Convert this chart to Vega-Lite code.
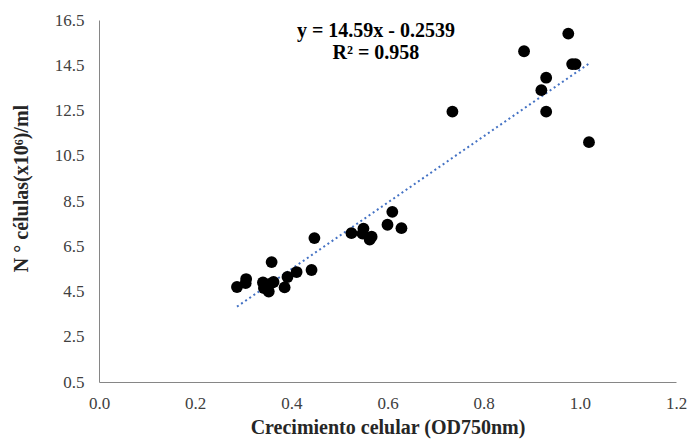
{
  "$schema": "https://vega.github.io/schema/vega-lite/v6.json",
  "width": 577,
  "height": 362,
  "autosize": "none",
  "padding": {"left": 99, "top": 20, "right": 11, "bottom": 59},
  "background": "white",
  "config": {
    "view": {"stroke": null},
    "font": "Liberation Serif",
    "axis": {"grid": false, "ticks": false, "labelFlush": false, "labelOverlap": false, "domainColor": "#868686", "labelColor": "#404040", "labelFont": "Liberation Serif", "labelFontSize": 17, "titleFont": "Liberation Serif", "titleFontSize": 20, "titleFontWeight": "bold", "titleColor": "#262626"}
  },
  "datasets": {
    "pts": [
      {"od": 0.287, "cells": 4.70},
      {"od": 0.305, "cells": 4.87},
      {"od": 0.306, "cells": 5.05},
      {"od": 0.341, "cells": 4.90},
      {"od": 0.343, "cells": 4.65},
      {"od": 0.353, "cells": 4.50},
      {"od": 0.357, "cells": 4.85},
      {"od": 0.363, "cells": 4.92},
      {"od": 0.359, "cells": 5.80},
      {"od": 0.386, "cells": 4.68},
      {"od": 0.392, "cells": 5.14},
      {"od": 0.411, "cells": 5.36},
      {"od": 0.442, "cells": 5.45},
      {"od": 0.448, "cells": 6.86},
      {"od": 0.525, "cells": 7.08},
      {"od": 0.550, "cells": 7.28},
      {"od": 0.548, "cells": 7.06},
      {"od": 0.563, "cells": 6.80},
      {"od": 0.567, "cells": 6.92},
      {"od": 0.600, "cells": 7.45},
      {"od": 0.610, "cells": 8.02},
      {"od": 0.629, "cells": 7.30},
      {"od": 0.735, "cells": 12.45},
      {"od": 0.884, "cells": 15.12},
      {"od": 0.920, "cells": 13.40},
      {"od": 0.930, "cells": 13.95},
      {"od": 0.930, "cells": 12.45},
      {"od": 0.976, "cells": 15.90},
      {"od": 0.984, "cells": 14.55},
      {"od": 0.991, "cells": 14.55},
      {"od": 1.019, "cells": 11.10}
    ],
    "eq": [
      {"od": 0.576, "cells": 16.0, "label": "y = 14.59x - 0.2539"},
      {"od": 0.576, "cells": 15.04, "label": "R² = 0.958"}
    ]
  },
  "layer": [
    {
      "data": {"name": "pts"},
      "transform": [{"regression": "cells", "on": "od", "method": "linear"}],
      "mark": {"type": "line", "color": "#4472C4", "strokeWidth": 2, "strokeDash": [2, 3]},
      "encoding": {
        "x": {"field": "od", "type": "quantitative"},
        "y": {"field": "cells", "type": "quantitative"}
      }
    },
    {
      "data": {"name": "pts"},
      "mark": {"type": "circle", "size": 140, "color": "black", "opacity": 1},
      "encoding": {
        "x": {"field": "od", "type": "quantitative", "scale": {"domain": [0, 1.2], "nice": false}, "axis": {"values": [0, 0.2, 0.4, 0.6, 0.8, 1.0, 1.2], "format": ".1f", "labelFont": "Liberation Serif", "labelPadding": 13, "title": "Crecimiento celular (OD750nm)", "titlePadding": 6}},
        "y": {"field": "cells", "type": "quantitative", "scale": {"domain": [0.5, 16.5], "nice": false, "zero": false}, "axis": {"values": [0.5, 2.5, 4.5, 6.5, 8.5, 10.5, 12.5, 14.5, 16.5], "format": ".1f", "labelFont": "Liberation Serif", "labelPadding": 15, "title": "N ° células(x10⁶)/ml", "titlePadding": 23, "titleY": 168}}
      }
    },
    {
      "data": {"name": "eq"},
      "mark": {"type": "text", "font": "Liberation Serif", "fontSize": 20, "fontWeight": "bold", "color": "#000000", "align": "center", "baseline": "middle"},
      "encoding": {
        "x": {"field": "od", "type": "quantitative"},
        "y": {"field": "cells", "type": "quantitative"},
        "text": {"field": "label"}
      }
    }
  ]
}
